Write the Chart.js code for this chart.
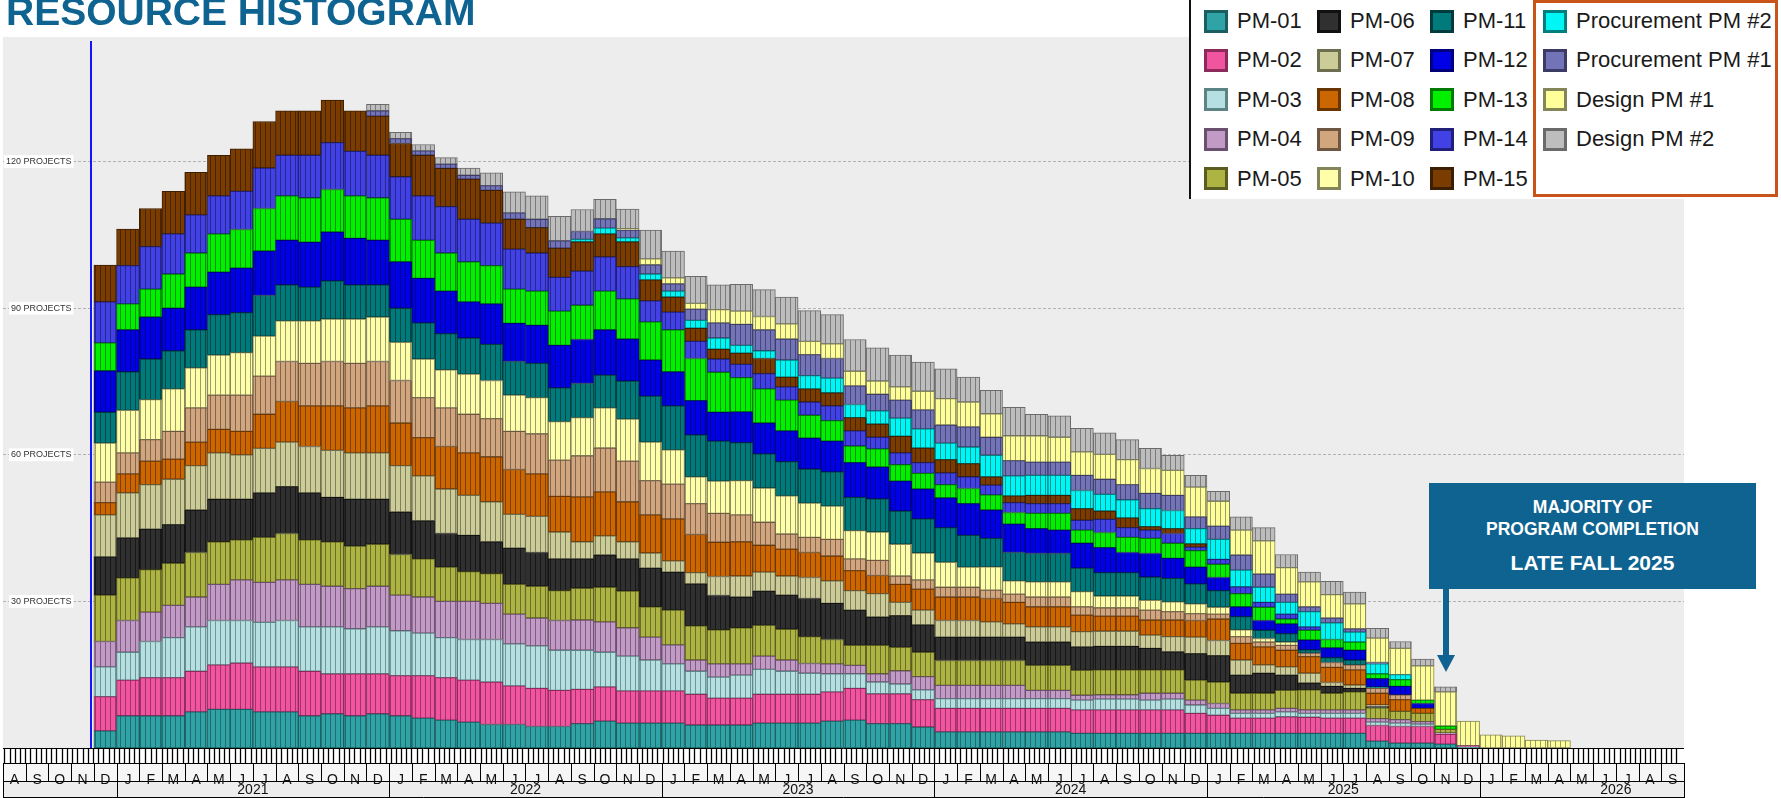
<!DOCTYPE html>
<html>
<head>
<meta charset="utf-8">
<title>Resource Histogram</title>
<script src="https://cdn.jsdelivr.net/npm/chart.js@4.4.1/dist/chart.umd.min.js"></script>
<style>
  body { margin: 0; background: #fff; }
  #wrap { position: relative; width: 1781px; height: 798px; overflow: hidden; font-family: 'Liberation Sans', Arial, sans-serif; }
  #myChart { position: absolute; left: 0; top: 0; }
  .title { position: absolute; left: 6px; top: -8px; font-size: 39px; font-weight: bold; line-height: 1; color: #0e6391; white-space: nowrap; }
  #legend { position: absolute; left: 1189px; top: 0; width: 592px; height: 199px; background: #fff; border-left: 2px solid #111; box-sizing: border-box; }
  .item { position: absolute; display: flex; align-items: center; height: 24px; white-space: nowrap; font-size: 22px; color: #1a1a1a; }
  .swatch { box-sizing: border-box; width: 24px; height: 23px; border: 3px solid; margin-right: 9px; }
  #orangeBox { position: absolute; left: 1533px; top: 0; width: 245px; height: 197px; border: 3px solid #c9541a; box-sizing: border-box; }
  .callout { position: absolute; left: 1429px; top: 483px; width: 327px; height: 106px; background: #0e6391; color: #fff; font-weight: bold; }
  .callout div { position: absolute; left: 0; width: 100%; text-align: center; line-height: 1; white-space: nowrap; }
  #arrow { position: absolute; left: 1430px; top: 585px; }
</style>
</head>
<body>
<div id="wrap">
  <canvas id="myChart" width="1781" height="798"></canvas>
  <div class="title">RESOURCE HISTOGRAM</div>
  <div id="legend"></div>
  <div id="orangeBox"></div>
  <div class="callout">
    <div style="top:15.5px;font-size:17.5px">MAJORITY OF</div>
    <div style="top:37.5px;font-size:17.5px">PROGRAM COMPLETION</div>
    <div style="top:69px;font-size:21px">LATE FALL 2025</div>
  </div>
  <svg id="arrow" width="30" height="90">
    <rect x="13" y="4" width="6" height="68" fill="#0e6391"></rect>
    <polygon points="7,70 25,70 16,87" fill="#0e6391"></polygon>
  </svg>
</div>
<script>
// axis labels
const monthLetters = ['J', 'F', 'M', 'A', 'M', 'J', 'J', 'A', 'S', 'O', 'N', 'D'];
const years = ['2021', '2022', '2023', '2024', '2025', '2026'];
const yTicks = [30, 60, 90, 120];

// one category per month, Aug 2020 .. Sep 2026
const months = [];
for (let k = 0; k < 74; k++) {
    const d = new Date(2020, 7 + k, 1);
    months.push(d.getFullYear() + '-' + String(d.getMonth() + 1).padStart(2, '0'));
}
const firstBar = months.indexOf('2020-12');
const dataDate = new Date(2020, 10, 27);

// projects per month, Dec 2020 .. Apr 2026
const pm01 = [3.5, 6.6, 6.6, 6.6, 7.4, 7.9, 7.9, 7.4, 7.4, 6.6, 7.0, 6.6, 7.0,
    6.6, 6.1, 5.7, 5.3, 4.8, 4.8, 4.4, 4.4, 5.0, 5.5, 5.1, 5.1,
    5.1, 4.7, 4.7, 4.7, 5.1, 5.1, 5.1, 5.5, 5.7, 5.0, 5.0, 4.3,
    3.3, 3.3, 3.3, 3.3, 3.3, 3.3, 3.0, 3.0, 3.0, 3.0, 3.0, 3.0,
    3.0, 3.0, 3.0, 3.0, 3.0, 3.0, 3.0, 1.4, 1.0, 1.0, 0.8, 0.2,
    0, 0, 0, 0];
const pm02 = [7.0, 7.3, 7.8, 7.8, 8.3, 9.1, 9.5, 9.2, 9.2, 9.1, 8.2, 8.6, 8.2,
    8.2, 8.7, 8.7, 8.6, 8.7, 7.9, 7.8, 7.4, 7.0, 7.0, 6.6, 6.6,
    6.6, 6.3, 5.5, 5.5, 5.9, 5.9, 5.9, 6.0, 6.5, 6.1, 6.1, 5.6,
    4.8, 4.8, 4.8, 4.8, 4.8, 4.8, 4.8, 4.8, 4.8, 4.8, 4.8, 4.1,
    3.7, 3.1, 3.1, 3.4, 3.3, 3.1, 3.1, 3.2, 3.4, 3.4, 2.0, 0.3,
    0, 0, 0, 0];
const pm03 = [6.1, 5.7, 7.4, 8.2, 9.1, 9.1, 8.7, 9.1, 9.5, 9.1, 9.6, 9.2, 9.6,
    9.2, 8.7, 8.2, 8.3, 8.7, 8.6, 8.7, 8.2, 8.0, 7.1, 7.1, 6.3,
    5.5, 4.7, 4.3, 4.7, 5.1, 4.7, 4.3, 3.7, 3.0, 2.4, 2.0, 2.0,
    2.0, 2.0, 2.0, 2.0, 2.0, 2.0, 2.0, 2.2, 2.2, 2.0, 2.2, 1.7,
    1.4, 1.0, 1.0, 1.0, 0.8, 1.0, 1.0, 0.7, 0.7, 0.5, 0, 0,
    0, 0, 0, 0];
const pm04 = [5.2, 6.5, 6.0, 6.6, 6.1, 7.4, 8.3, 8.2, 8.3, 8.7, 8.3, 8.2, 8.3,
    7.3, 7.4, 7.4, 7.8, 7.4, 6.1, 5.7, 6.1, 6.2, 6.2, 5.8, 4.7,
    3.9, 2.3, 2.7, 2.3, 2.7, 2.3, 2.0, 2.0, 1.7, 1.7, 2.7, 2.7,
    2.7, 2.7, 2.7, 2.7, 1.7, 1.7, 1.0, 0.9, 0.9, 1.4, 1.2, 1.0,
    1.0, 0.7, 0.7, 0.7, 0.7, 0.7, 0.7, 0.7, 0.7, 0.5, 0.3, 0,
    0, 0, 0, 0];
const pm05 = [9.5, 8.7, 8.7, 8.6, 9.1, 8.7, 8.2, 9.2, 9.5, 9.1, 9.1, 8.7, 8.6,
    8.3, 7.8, 7.0, 6.1, 6.1, 6.1, 6.5, 6.1, 6.5, 7.1, 7.5, 6.2,
    7.1, 7.0, 7.0, 7.4, 6.3, 6.3, 5.5, 5.0, 4.1, 5.8, 4.8, 5.0,
    5.1, 5.1, 5.1, 5.1, 5.1, 5.1, 5.1, 5.1, 5.1, 4.8, 4.8, 4.1,
    4.4, 3.4, 3.4, 3.7, 4.1, 3.4, 3.7, 2.2, 1.7, 1.7, 0.7, 0,
    0, 0, 0, 0];
const pm06 = [7.8, 8.2, 8.3, 7.9, 8.7, 8.7, 8.3, 9.1, 9.6, 9.6, 9.1, 9.6, 9.2,
    8.7, 7.8, 6.9, 7.4, 6.5, 7.4, 6.9, 6.5, 6.0, 6.6, 6.6, 7.9,
    7.8, 8.6, 7.0, 6.3, 7.0, 7.0, 7.8, 7.4, 7.2, 5.8, 6.5, 5.6,
    4.8, 4.8, 4.8, 4.8, 4.8, 4.8, 4.8, 4.8, 4.8, 4.4, 3.7, 5.4,
    5.4, 3.7, 4.1, 3.1, 1.4, 1.4, 0.7, 0.3, 0, 0, 0, 0,
    0, 0, 0, 0];
const pm07 = [8.6, 9.2, 9.1, 9.3, 9.1, 9.5, 9.1, 9.1, 9.1, 9.5, 9.6, 9.5, 9.5,
    9.5, 9.2, 9.1, 8.2, 8.2, 6.9, 7.4, 5.5, 3.5, 3.9, 3.5, 3.1,
    2.3, 2.3, 3.9, 4.3, 3.9, 3.9, 4.3, 4.6, 4.0, 4.8, 2.7, 3.0,
    3.4, 3.4, 3.1, 2.7, 3.1, 3.1, 3.1, 3.1, 3.1, 2.7, 3.1, 3.4,
    3.1, 3.1, 1.7, 1.7, 2.0, 0.8, 0.7, 0.3, 0, 0, 0, 0,
    0, 0, 0, 0];
const pm08 = [2.5, 3.9, 4.8, 4.1, 4.8, 4.8, 4.8, 7.0, 8.3, 8.3, 9.1, 9.2, 9.6,
    8.7, 7.8, 8.7, 8.7, 9.2, 9.2, 8.7, 7.3, 9.2, 9.0, 8.2, 7.8,
    8.6, 7.8, 7.0, 7.0, 5.5, 5.5, 5.1, 5.1, 4.1, 3.7, 3.7, 4.3,
    4.8, 4.8, 4.8, 4.4, 4.1, 4.1, 3.4, 3.1, 3.1, 3.1, 3.4, 3.4,
    4.4, 3.4, 3.7, 3.4, 3.4, 3.1, 3.1, 2.4, 2.4, 1.0, 0, 0,
    0, 0, 0, 0];
const pm09 = [4.2, 4.3, 4.4, 5.7, 7.0, 7.0, 7.4, 7.8, 8.2, 8.7, 9.1, 9.1, 9.1,
    8.7, 8.2, 7.9, 7.9, 7.8, 7.8, 8.2, 7.4, 8.4, 9.0, 8.3, 7.0,
    7.1, 6.3, 5.9, 5.5, 4.7, 3.1, 3.1, 3.4, 2.4, 3.1, 1.7, 1.9,
    2.0, 2.0, 1.7, 1.7, 2.0, 2.0, 1.7, 1.7, 1.7, 2.0, 1.7, 1.4,
    1.0, 1.4, 1.0, 1.0, 0.7, 1.0, 1.0, 1.0, 1.0, 0, 0, 0,
    0, 0, 0, 0];
const pm10 = [8.0, 8.7, 8.2, 8.7, 8.2, 8.2, 8.7, 8.2, 8.3, 8.7, 8.7, 9.1, 9.1,
    7.8, 7.9, 7.8, 8.2, 7.8, 7.4, 7.4, 7.9, 7.8, 8.2, 8.6, 7.9,
    7.0, 5.5, 6.6, 7.0, 7.0, 7.8, 7.0, 6.8, 5.8, 5.8, 6.5, 5.5,
    5.1, 4.1, 4.8, 2.7, 3.1, 3.1, 3.1, 2.4, 2.4, 2.0, 2.0, 2.0,
    1.4, 1.4, 0.7, 0.7, 0, 0, 0, 0, 0, 0, 0, 0,
    0, 0, 0, 0];
const pm11 = [6.3, 7.9, 8.3, 7.8, 7.8, 8.3, 8.2, 8.3, 7.4, 6.9, 7.8, 7.0, 6.6,
    7.0, 7.4, 7.4, 7.4, 7.4, 6.9, 7.0, 6.9, 7.0, 6.7, 7.8, 9.4,
    9.0, 8.6, 8.2, 7.8, 7.0, 7.0, 7.0, 7.0, 6.8, 6.8, 6.8, 7.0,
    7.1, 6.5, 5.8, 5.8, 5.8, 5.8, 4.8, 4.8, 4.8, 4.8, 4.8, 4.1,
    3.4, 2.7, 1.7, 1.7, 0.7, 1.0, 1.0, 0.3, 0, 0, 0, 0,
    0, 0, 0, 0];
const pm12 = [8.5, 8.6, 8.6, 8.7, 8.7, 8.7, 9.1, 9.1, 9.1, 9.2, 10.0, 9.5, 9.1,
    9.5, 9.1, 8.7, 7.4, 8.3, 7.8, 7.8, 8.7, 9.0, 9.3, 8.6, 7.4,
    7.0, 7.0, 5.9, 6.3, 6.3, 6.3, 6.3, 6.3, 7.1, 6.5, 6.1, 6.1,
    6.1, 6.5, 5.8, 5.8, 5.1, 4.8, 5.1, 5.1, 4.1, 4.8, 4.1, 3.4,
    2.7, 2.0, 2.0, 2.0, 2.0, 2.0, 2.0, 1.7, 1.7, 1.0, 0, 0,
    0, 0, 0, 0];
const pm13 = [5.7, 5.3, 5.7, 7.0, 7.0, 7.8, 7.9, 8.7, 9.1, 9.1, 8.7, 8.7, 8.7,
    8.7, 7.8, 7.8, 8.2, 7.8, 7.0, 7.0, 7.0, 7.0, 7.9, 8.2, 7.8,
    8.6, 8.6, 8.2, 7.0, 7.0, 6.3, 4.7, 4.2, 3.4, 3.7, 3.4, 3.2,
    2.7, 3.1, 3.1, 2.4, 3.1, 3.4, 2.7, 3.1, 3.1, 3.1, 3.1, 3.4,
    2.7, 2.7, 2.7, 1.0, 2.0, 1.7, 1.7, 1.0, 1.4, 0.7, 0.7, 0,
    0, 0, 0, 0];
const pm14 = [8.4, 7.8, 8.7, 8.2, 7.8, 7.8, 7.8, 8.3, 8.3, 8.7, 9.6, 9.1, 8.7,
    8.7, 9.1, 9.5, 8.7, 8.7, 8.2, 7.8, 6.9, 7.0, 7.0, 6.6, 4.3,
    3.6, 3.5, 2.7, 2.7, 3.1, 2.7, 2.7, 3.0, 3.1, 2.4, 2.4, 2.2,
    2.4, 2.4, 2.0, 2.0, 2.0, 2.0, 2.0, 2.7, 2.0, 1.7, 2.0, 0.7,
    1.0, 1.4, 1.0, 1.0, 0.7, 0, 0, 0, 0, 0, 0, 0,
    0, 0, 0, 0];
const pm15 = [7.5, 7.5, 7.8, 8.7, 8.7, 8.3, 8.7, 9.5, 9.1, 9.1, 8.7, 8.3, 8.0,
    6.8, 8.3, 7.8, 8.2, 6.7, 6.1, 5.2, 6.0, 6.0, 4.7, 5.1, 4.3,
    3.1, 2.7, 2.0, 2.3, 3.1, 2.0, 2.7, 2.7, 2.7, 2.7, 3.4, 3.0,
    2.7, 2.7, 1.7, 1.4, 1.7, 1.7, 2.4, 1.7, 2.0, 0.7, 1.0, 0.7,
    0, 0, 0, 0, 0, 0, 0, 0, 0, 0, 0, 0,
    0, 0, 0, 0];
const procPm2 = [0, 0, 0, 0, 0, 0, 0, 0, 0, 0, 0, 0, 0,
    0, 0, 0, 0, 0, 0, 0, 0, 0.5, 1.2, 0.8, 1.2,
    1.2, 1.6, 2.3, 1.6, 1.6, 3.5, 2.7, 3.0, 2.7, 2.7, 3.7, 3.9,
    3.4, 3.4, 4.4, 4.1, 4.1, 4.1, 3.7, 3.4, 3.7, 3.7, 3.7, 3.1,
    4.1, 3.4, 3.1, 2.4, 3.1, 3.4, 2.0, 2.0, 1.0, 0, 0, 0,
    0, 0, 0, 0];
const procPm1 = [0, 0, 0, 0, 0, 0, 0, 0, 0, 0, 0, 0, 1.1,
    1.0, 0.9, 0.9, 0.8, 1.0, 1.3, 1.7, 1.5, 1.6, 1.9, 1.6, 1.9,
    1.5, 2.3, 3.1, 4.3, 4.3, 4.3, 4.3, 4.0, 3.8, 3.4, 3.7, 3.9,
    3.7, 4.1, 3.7, 3.1, 2.7, 2.7, 3.1, 3.1, 3.1, 3.1, 3.1, 2.4,
    2.7, 3.1, 2.7, 1.7, 1.0, 1.0, 0.7, 0.3, 0, 0, 0, 0,
    0, 0, 0, 0];
const designPm1 = [0, 0, 0, 0, 0, 0, 0, 0, 0, 0, 0, 0, 0,
    0, 0, 0, 0, 0, 0, 0, 0, 0, 0, 0.3, 1.2,
    1.2, 1.2, 2.7, 2.7, 2.7, 3.1, 2.7, 3.0, 3.0, 2.7, 2.7, 3.8,
    5.4, 5.1, 4.8, 5.1, 5.4, 5.1, 4.8, 5.1, 5.1, 5.1, 5.1, 6.1,
    5.1, 5.1, 6.8, 5.4, 5.1, 4.8, 5.1, 5.0, 5.4, 7.0, 7.0, 5.0,
    2.7, 2.5, 1.6, 1.5];
const designPm2 = [0, 0, 0, 0, 0, 0, 0, 0, 0, 0, 0, 0, 1.3,
    1.3, 1.3, 1.3, 1.5, 2.6, 4.3, 4.8, 5.0, 4.5, 4.0, 4.0, 5.9,
    5.5, 5.5, 5.1, 5.5, 5.5, 5.5, 6.3, 6.0, 6.5, 6.8, 6.5, 6.0,
    6.1, 5.1, 4.8, 5.8, 4.4, 4.4, 4.8, 4.4, 4.1, 4.1, 3.1, 2.4,
    2.0, 2.7, 2.7, 2.7, 2.0, 2.7, 2.4, 2.0, 1.4, 1.4, 1.0, 0,
    0, 0, 0, 0];

const seriesNames = ['PM-01', 'PM-02', 'PM-03', 'PM-04', 'PM-05', 'PM-06', 'PM-07', 'PM-08',
    'PM-09', 'PM-10', 'PM-11', 'PM-12', 'PM-13', 'PM-14', 'PM-15',
    'Procurement PM #2', 'Procurement PM #1', 'Design PM #1', 'Design PM #2'];
const seriesValues = [pm01, pm02, pm03, pm04, pm05, pm06, pm07, pm08, pm09, pm10,
    pm11, pm12, pm13, pm14, pm15, procPm2, procPm1, designPm1, designPm2];
const fillColors = ['#2fa3a6', '#f2559f', '#b5dfe0', '#c29ac6', '#aeb443', '#303030', '#cccc99',
    '#cc6600', '#d1a67e', '#ffffaa', '#007a7a', '#0000e6', '#00f000', '#4141e6', '#7a3c00',
    '#00f5f5', '#7373b8', '#ffff99', '#bdbdbd'];
const lineColors = ['#1b5e60', '#8c2a5c', '#5d8485', '#6b4f6e', '#5a5d1f', '#111111', '#6d6d4f',
    '#6b3500', '#6e5640', '#84845a', '#003c3c', '#00007a', '#007a00', '#20207a', '#3c1e00',
    '#007f7f', '#3b3b66', '#85855a', '#6a6a6a'];

// legend layout (column-major, 5 rows)
const legendCols = [1202, 1315, 1428, 1541];

function monthPos(d) {
    const days = new Date(d.getFullYear(), d.getMonth() + 1, 0).getDate();
    return (d.getFullYear() - 2020) * 12 + d.getMonth() - 7 + (d.getDate() - 1) / days;
}

// bar fill with thin dark vertical rules, like the weekly bars of the original
function striped(ctx, fill, line) {
    const tile = document.createElement('canvas');
    tile.width = 5;
    tile.height = 4;
    const g = tile.getContext('2d');
    g.fillStyle = fill;
    g.fillRect(0, 0, 5, 4);
    g.globalAlpha = 0.8;
    g.fillStyle = line;
    g.fillRect(0, 0, 1, 4);
    return ctx.createPattern(tile, 'repeat');
}

// gray plot background, week/month/year band under the plot, data-date line
const timeBand = {
    id: 'timeBand',
    beforeDraw(chart) {
        const { ctx, chartArea: a } = chart;
        const w = a.right - a.left;
        const cw = w / months.length;
        const r0 = a.bottom, r1 = r0 + 15, r2 = r1 + 18, r3 = chart.height;
        const vline = (x, ya, yb) => { ctx.beginPath(); ctx.moveTo(x, ya); ctx.lineTo(x, yb); ctx.stroke(); };
        const hline = y => { ctx.beginPath(); ctx.moveTo(a.left, y); ctx.lineTo(a.right, y); ctx.stroke(); };
        ctx.save();
        ctx.fillStyle = '#ededed';
        ctx.fillRect(a.left, a.top, w, a.bottom - a.top);
        ctx.fillStyle = '#ffffff';
        ctx.fillRect(a.left, r0, w, r1 - r0);
        ctx.fillStyle = '#f6f6f6';
        ctx.fillRect(a.left, r1, w, r2 - r1);
        ctx.fillStyle = '#ededed';
        ctx.fillRect(a.left, r2, w, r3 - r2);

        ctx.strokeStyle = '#000';
        ctx.lineWidth = 1.3;
        for (let d = new Date(2020, 7, 3); d < new Date(2026, 8, 28); d.setDate(d.getDate() + 7)) {
            vline(Math.round(a.left + monthPos(d) * cw) + 0.5, r0 + 1, r1);
        }
        ctx.lineWidth = 1;
        for (let k = 0; k <= months.length; k++) {
            const x = Math.round(a.left + k * cw) + 0.5;
            vline(x, r1, r2);
            if (k === 0 || k === months.length || months[k].endsWith('-01')) vline(x, r2, r3);
        }
        hline(r0 + 0.5); hline(r1 + 0.5); hline(r2 + 0.5); hline(r3 - 0.5);

        ctx.fillStyle = '#111';
        ctx.font = '14px "Liberation Sans", Arial, sans-serif';
        ctx.textAlign = 'center';
        ctx.textBaseline = 'middle';
        years.forEach(yr => {
            const c = a.left + (months.indexOf(yr + '-01') + 6) * cw;
            if (c > a.left && c < a.right) ctx.fillText(yr, c, (r2 + r3) / 2 + 1);
        });
        ctx.restore();
    },
    afterDatasetsDraw(chart) {
        const { ctx, chartArea: a } = chart;
        const x = Math.round(a.left + monthPos(dataDate) * (a.right - a.left) / months.length);
        ctx.save();
        ctx.strokeStyle = '#1414ff';
        ctx.lineWidth = 2;
        ctx.beginPath();
        ctx.moveTo(x, a.top + 4);
        ctx.lineTo(x, a.bottom);
        ctx.stroke();
        ctx.restore();
    }
};

Chart.defaults.font.family = '"Liberation Sans", Arial, sans-serif';

const ctx = document.getElementById('myChart').getContext('2d');

const datasets = seriesNames.map((name, s) => ({
    label: name,
    data: Array(firstBar).fill(null).concat(seriesValues[s].map(v => v || null)),
    backgroundColor: striped(ctx, fillColors[s], lineColors[s]),
    borderColor: lineColors[s],
    borderWidth: 1,
    borderSkipped: false,
    barPercentage: 1,
    categoryPercentage: 1
}));

const chart = new Chart(ctx, {
    type: 'bar',
    data: { labels: months, datasets: datasets },
    options: {
        responsive: false,
        animation: false,
        layout: { padding: { left: 0, right: 97, top: 37, bottom: 0 } },
        plugins: {
            legend: { display: false },
            tooltip: { enabled: false }
        },
        scales: {
            x: {
                stacked: true,
                grid: { display: false },
                border: { display: false },
                ticks: {
                    autoSkip: false,
                    maxRotation: 0,
                    minRotation: 0,
                    padding: 16,
                    color: '#111',
                    font: { size: 14 },
                    callback: (v, i) => monthLetters[Number(months[i].slice(5)) - 1]
                },
                afterFit: s => {
                    s.height = 50;
                    s.paddingLeft = 0;
                    s.paddingRight = 0;
                }
            },
            y: {
                stacked: true,
                min: 0,
                max: 145.5,
                afterBuildTicks: s => { s.ticks = yTicks.map(v => ({ value: v })); },
                afterFit: s => { s.width = 3; },
                grid: { color: '#b3b3b3', drawTicks: false },
                border: { display: false, dash: [3, 2] },
                ticks: {
                    mirror: true,
                    crossAlign: 'far',
                    padding: 3,
                    color: '#333',
                    font: { size: 9 },
                    showLabelBackdrop: true,
                    backdropColor: '#ffffff',
                    backdropPadding: { x: 2, y: 1 },
                    callback: v => v + ' PROJECTS'
                }
            }
        }
    },
    plugins: [timeBand]
});

// legend built from the chart's datasets
const legendBox = document.getElementById('legend');
chart.data.datasets.forEach((ds, i) => {
    const col = i < 15 ? Math.floor(i / 5) : 3;
    const row = i < 15 ? i % 5 : i - 15;
    const item = document.createElement('div');
    item.className = 'item';
    item.style.left = (legendCols[col] - 1189) + 'px';
    item.style.top = (21 + row * 39.4 - 12) + 'px';
    item.innerHTML = '<span class="swatch" style="background:' + fillColors[i] +
        ';border-color:' + ds.borderColor + '"></span>' + ds.label;
    legendBox.appendChild(item);
});
</script>
</body>
</html>
